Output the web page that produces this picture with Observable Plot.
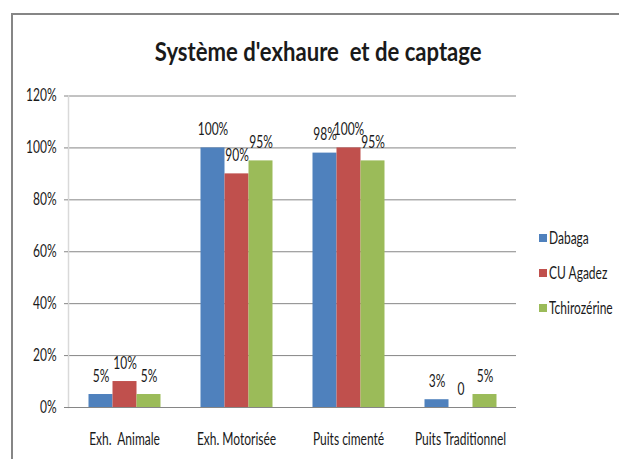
<!DOCTYPE html>
<html>
<head>
<meta charset="utf-8">
<script src="https://cdn.jsdelivr.net/npm/d3@7"></script>
<script src="https://cdn.jsdelivr.net/npm/@observablehq/plot@0.6"></script>
<style>
  html, body { margin: 0; padding: 0; background: #fff; }
  #wrap { position: relative; width: 619px; height: 459px; overflow: hidden; font-family: Lato, "Open Sans", sans-serif; color: #1a1a1a; }
  #border { position: absolute; left: 11px; top: 13px; width: 620px; height: 460px; border-left: 2px solid #868686; border-top: 2px solid #868686; box-sizing: border-box; }
  #title { position: absolute; left: 0; top: 35px; width: 637px; text-align: center; white-space: pre; }
  #title span { display: inline-block; font-weight: bold; font-size: 26px; line-height: 30px; transform: scale(0.85, 1.06); transform-origin: center; }
  #chart { position: absolute; left: 0; top: 0; }
  .leg { position: absolute; left: 539px; height: 16px; display: flex; align-items: center; white-space: pre; }
  .leg span.sw { display: inline-block; width: 8px; height: 8px; margin-right: 2px; }
  .leg span.lt { display: inline-block; font-size: 12px; line-height: 16px; transform: scale(1.0, 1.4); transform-origin: left center; }
</style>
</head>
<body>
<div id="wrap">
  <div id="border"></div>
  <div id="chart"></div>
  <div id="title"><span>Système d'exhaure  et de captage</span></div>
  <div id="legend"></div>
</div>
<script>
const categories = ["Exh.  Animale", "Exh. Motorisée", "Puits cimenté", "Puits Traditionnel"];
const series = ["Dabaga", "CU Agadez", "Tchirozérine"];
const dabaga = [5, 100, 98, 3];
const cuAgadez = [10, 90, 100, 0];
const tchirozerine = [5, 95, 95, 5];
const yTicks = [0, 20, 40, 60, 80, 100, 120];
const colors = ["#4F81BD", "#C0504D", "#9BBB59"];

const seriesValues = [dabaga, cuAgadez, tchirozerine];
const data = [];
categories.forEach((c, i) => {
  series.forEach((s, j) => {
    data.push({cat: c, series: s, value: seriesValues[j][i]});
  });
});

const chart = Plot.plot({
  width: 619,
  height: 459,
  marginLeft: 67.5,
  marginRight: 103.5,
  marginTop: 95.5,
  marginBottom: 52,
  style: {fontSize: "12px", fontFamily: "Lato, 'Open Sans', sans-serif", color: "#1a1a1a", background: "transparent"},
  fx: {domain: categories, padding: 0, label: null, tickSize: 0, tickPadding: 26},
  x: {domain: series, paddingInner: 0, paddingOuter: 0.74, axis: null},
  y: {domain: [0, 120], ticks: yTicks, tickFormat: d => d + "%", label: null},
  color: {domain: series, range: colors},
  marks: [
    Plot.gridY(yTicks, {stroke: "#868686", strokeOpacity: 1}),
    Plot.frame({anchor: "left", facetAnchor: "left", stroke: "#d9d9d9", strokeWidth: 1.5}),
    Plot.axisY({ticks: yTicks, tickFormat: d => d + "%", tickSize: 4, tickPadding: 8, stroke: "#868686", strokeOpacity: 1, fontSize: 12}),
    Plot.barY(data, {fx: "cat", x: "series", y: "value", fill: "series"}),
    Plot.text(data, {fx: "cat", x: "series", y: "value", text: d => d.value === 0 ? "0" : d.value + "%", dy: -18, fill: "#1a1a1a", fontSize: 12}),
    Plot.ruleY([0], {stroke: "#868686"})
  ]
});
document.getElementById("chart").appendChild(chart);

// condensed, tall text look of the original
const num = v => { const n = parseFloat(v); return (v && /^[-\d.]+$/.test(String(v).trim()) && isFinite(n)) ? n : 0; };
d3.select(chart).selectAll("text").each(function() {
  const t = d3.select(this);
  t.style("white-space", "pre");
  const x = num(t.attr("x")), y = num(t.attr("y"));
  const tr = t.attr("transform") || "";
  t.attr("transform", `${tr} translate(${x},${y}) scale(1.0,1.4) translate(${-x},${-y})`);
});

const legend = document.getElementById("legend");
const legTops = [230, 265, 300];
series.forEach((s, i) => {
  const d = document.createElement("div");
  d.className = "leg";
  d.style.top = legTops[i] + "px";
  d.innerHTML = `<span class="sw" style="background:${colors[i]}"></span><span class="lt">${s}</span>`;
  legend.appendChild(d);
});
</script>
</body>
</html>
